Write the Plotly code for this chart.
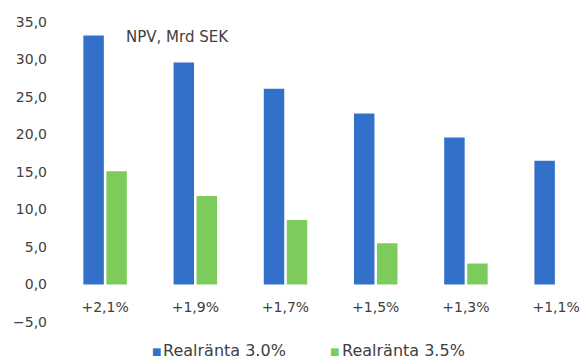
import plotly.graph_objects as go

# Real GDP growth scenarios (category axis)
categories = ["+2,1%", "+1,9%", "+1,7%", "+1,5%", "+1,3%", "+1,1%"]

# NPV in billions SEK for each real interest rate assumption
npv_rate_30 = [33.2, 29.6, 26.1, 22.8, 19.6, 16.5]
npv_rate_35 = [15.1, 11.8, 8.6, 5.5, 2.8, None]

series_names = ["Realränta 3.0%", "Realränta 3.5%"]
y_ticks = [-5, 0, 5, 10, 15, 20, 25, 30, 35]

BLUE = "#3270C9"
GREEN = "#7DCB5B"
TEXT = "#404040"
FONT = "DejaVu Sans, Verdana, sans-serif"

W, H = 585, 360
L, R, T, B = 60, 0, 22, 38
PW, PH = W - L - R, H - T - B


def px_x(px):
    """Pixel column -> paper x fraction of the plot area."""
    return (px - L) / PW


def px_y(py):
    """Pixel row -> paper y fraction of the plot area."""
    return (H - B - py) / PH


fig = go.Figure()
for vals, name, col in [(npv_rate_30, series_names[0], BLUE),
                        (npv_rate_35, series_names[1], GREEN)]:
    fig.add_trace(go.Bar(x=categories, y=vals, name=name,
                         marker=dict(color=col, line=dict(width=0))))

fig.add_annotation(text="NPV, Mrd SEK", xref="paper", yref="y",
                   x=px_x(124), y=33.0, xanchor="left", yanchor="middle",
                   showarrow=False, font=dict(size=15, color=TEXT, family=FONT))

# Legend drawn as swatch + label pairs below the axis
for name, col, sx, tx in [(series_names[0], BLUE, 156, 161),
                          (series_names[1], GREEN, 334, 340)]:
    fig.add_annotation(text="■", xref="paper", yref="paper",
                       x=px_x(sx), y=px_y(351), xanchor="center",
                       yanchor="middle", showarrow=False,
                       font=dict(size=10, color=col, family=FONT))
    fig.add_annotation(text=name, xref="paper", yref="paper",
                       x=px_x(tx), y=px_y(350), xanchor="left",
                       yanchor="middle", showarrow=False,
                       font=dict(size=16, color=TEXT, family=FONT))

fig.update_layout(
    width=W, height=H,
    margin=dict(l=L, r=R, t=T, b=B, autoexpand=False),
    paper_bgcolor="white", plot_bgcolor="white",
    separators=", ",
    barmode="group", bargap=0.49, bargroupgap=0.11,
    font=dict(family=FONT, color=TEXT, size=14),
    showlegend=False,
    xaxis=dict(type="category", range=[-0.5, 5.32], showgrid=False,
               showline=False, ticks="", anchor="free", automargin=False,
               position=px_y(297),
               tickfont=dict(size=14, color=TEXT)),
    yaxis=dict(range=[-5, 35], tickvals=y_ticks, tickformat=".1f",
               showgrid=False, zeroline=False, showline=False, ticks="",
               automargin=False,
               tickfont=dict(size=14, color=TEXT), ticklabelstandoff=12),
)

fig.write_html("out.html")
